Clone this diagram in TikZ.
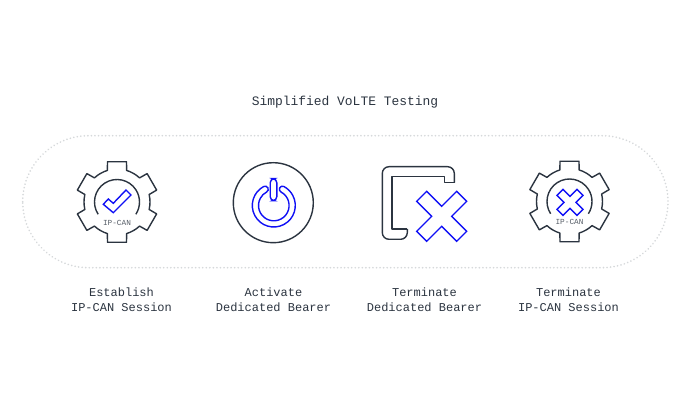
\documentclass[tikz,border=0pt]{standalone}
\usepackage{fontspec}
\setmonofont{Liberation Mono}
\usepackage{tikz}
\usetikzlibrary{positioning}
\definecolor{cInk}{HTML}{2B3440}
\definecolor{cBlue}{HTML}{1010F5}
\definecolor{cDots}{HTML}{D6D9DB}
\definecolor{cTag}{HTML}{555C66}
\tikzset{
  outline/.style={draw=cInk, line width=1.05pt, line join=round},
  accent/.style={draw=cBlue, line width=1.05pt, line join=miter},
  caption/.style={font=\fontsize{9pt}{11.25pt}\selectfont\ttfamily, text=cInk, align=center, inner sep=0pt},
  heading/.style={font=\fontsize{9.7pt}{12pt}\selectfont\ttfamily, text=cInk, inner sep=0pt},
  tag/.style={font=\fontsize{5.8pt}{7pt}\selectfont\ttfamily, text=cTag, inner sep=0pt},
}
% gear with its open inner ring: centre, tag name
\newcommand{\gearicon}[2]{
  \begin{scope}[shift={(#1)}]
    \draw[outline] (106.9:33)
      \foreach \a in {90,30,-30,-90,-150,-210} {
        -- ({\a+16.9}:33) -- ({\a+13.3}:41.4) -- ({\a-13.3}:41.4) -- ({\a-16.9}:33)
        arc[start angle={\a-16.9}, end angle={\a-43.1}, radius=33]
      } -- cycle;
    \draw[outline] (-147:22.5) arc[start angle=-147, end angle=-393, radius=22.5];
    \node[tag] (#2) at (0,-20.5) {IP-CAN};
  \end{scope}
}
\begin{document}
\begin{tikzpicture}[x=0.75pt, y=0.75pt]
  \useasboundingbox (0,0) rectangle (690,400);

  % Title
  \node[heading] (title) at (345,298) {Simplified VoLTE Testing};

  % Dotted frame
  \draw[cDots, line width=1.4pt, line cap=round, dash pattern=on 0.01pt off 2.65pt,
        rounded corners=49.5pt] (22.7,132.3) rectangle (668,264.3);

  % Establish
  \gearicon{117,198}{tagA}
  \draw[accent] (103.3,195.7) -- (108.3,201) -- (113.3,196.7) -- (126,210) -- (131,205)
    -- (113.3,187.3) -- cycle;

  % Activate
  \draw[outline] (273.3,197.3) circle[radius=40];
  \draw[accent, rounded corners=3pt] (270.2,199.3) rectangle (276.8,221.3);
  \draw[accent] (273.8,194.5) ++(118:21.5)
    arc[start angle=118, end angle=422, radius=21.5]
    arc[start angle=62, end angle=242, radius=3.1]
    arc[start angle=62, end angle=-242, radius=15.3]
    arc[start angle=298, end angle=478, radius=3.1] -- cycle;

  % Terminate bearer
  \draw[outline, rounded corners=5pt] (407.3,171) -- (407.3,160.7) -- (382.3,160.7)
    -- (382.3,233.3) -- (454.3,233.3) -- (454.3,217.3);
  \draw[outline] (454.3,220) -- (454.3,217.3) -- (444.7,217.3) -- (444.7,223.3)
    -- (392,223.3) -- (392,171) -- (407.3,171);
  \begin{scope}[shift={(441.7,183.7)}]
    \draw[accent] (0,10) -- (15,25) -- (25,15) -- (10,0) -- (25,-15) -- (15,-25) -- (0,-10)
      -- (-15,-25) -- (-25,-15) -- (-10,0) -- (-25,15) -- (-15,25) -- cycle;
  \end{scope}

  % Terminate session
  \gearicon{569.5,198.5}{tagB}
  \begin{scope}[shift={(570,197.7)}]
    \draw[accent] (0,6) -- (7,13) -- (13,7) -- (6,0) -- (13,-7) -- (7,-13) -- (0,-6)
      -- (-7,-13) -- (-13,-7) -- (-6,0) -- (-13,7) -- (-7,13) -- cycle;
  \end{scope}

  % Captions
  \node[caption] (establish) at (121.5,100.2) {Establish\\IP-CAN Session};
  \node[caption] (activate) at (273.5,100.2) {Activate\\Dedicated Bearer};
  \node[caption] (bearer) at (424.5,100.2) {Terminate\\Dedicated Bearer};
  \node[caption] (session) at (568.5,100.2) {Terminate\\IP-CAN Session};

\end{tikzpicture}
\end{document}
